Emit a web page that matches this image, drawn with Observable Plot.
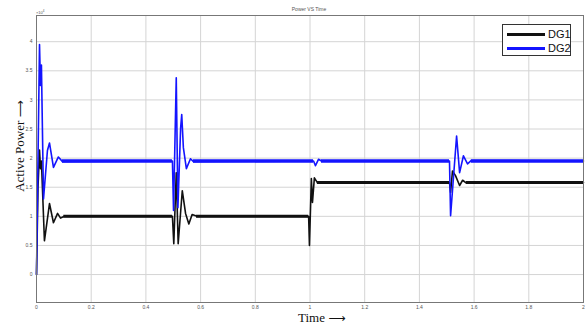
<!DOCTYPE html>
<html>
<head>
<meta charset="utf-8">
<script src="https://cdn.jsdelivr.net/npm/d3@7"></script>
<script src="https://cdn.jsdelivr.net/npm/@observablehq/plot@0.6"></script>
<style>
  html, body { margin: 0; padding: 0; background: #fff; }
  #wrap { position: relative; width: 585px; height: 325px; overflow: hidden; }
  .ov { position: absolute; white-space: nowrap; }
</style>
</head>
<body>
<div id="wrap"></div>
<script>
// ---- data (power in units of 10^4) ----
const dg1Time  = [0, 0.0055, 0.011, 0.0146, 0.018, 0.029, 0.0475, 0.062, 0.077, 0.088, 0.102,
                  0.497, 0.502, 0.511, 0.518, 0.533, 0.545, 0.557, 0.569, 0.587,
                  0.995, 0.998, 1.005, 1.009, 1.016, 1.027,
                  1.510, 1.514, 1.521, 1.532, 1.547, 1.558, 1.572, 2.0];
const dg1Power = [0, 1.5, 2.14, 1.82, 1.95, 0.58, 1.22, 0.89, 1.05, 0.97, 1.0,
                  1.0, 0.53, 1.75, 0.53, 1.44, 1.05, 0.87, 1.03, 1.0,
                  1.0, 0.5, 1.65, 1.24, 1.66, 1.58,
                  1.58, 1.41, 1.78, 1.70, 1.53, 1.62, 1.57, 1.58];
const dg2Time  = [0, 0.011, 0.0146, 0.018, 0.0256, 0.040, 0.0475, 0.062, 0.080, 0.095,
                  0.497, 0.501, 0.511, 0.517, 0.527, 0.531, 0.537, 0.548, 0.563, 0.574,
                  1.013, 1.020, 1.031, 1.042,
                  1.510, 1.514, 1.536, 1.547, 1.561, 1.576, 1.590, 2.0];
const dg2Power = [0, 3.95, 3.25, 3.6, 1.30, 2.13, 2.26, 1.84, 2.02, 1.94,
                  1.95, 1.10, 3.38, 1.15, 2.52, 2.75, 2.18, 1.82, 1.99, 1.94,
                  1.95, 1.87, 1.98, 1.95,
                  1.95, 1.01, 2.38, 1.75, 2.04, 1.90, 1.96, 1.95];
// steady (rippling) stretches: start time, end time, level
const dg1Steady = [[0.10, 0.497, 1.0], [0.585, 0.995, 1.0], [1.027, 1.510, 1.58], [1.572, 2.0, 1.58]];
const dg2Steady = [[0.095, 0.497, 1.95], [0.574, 1.013, 1.95], [1.042, 1.510, 1.95], [1.590, 2.0, 1.95]];
const xTicks = [0, 0.2, 0.4, 0.6, 0.8, 1, 1.2, 1.4, 1.6, 1.8, 2];
const yTicks = [0, 0.5, 1, 1.5, 2, 2.5, 3, 3.5, 4];
const seriesNames = ["DG1", "DG2"];
const seriesColors = ["#111111", "#1414ff"];

const dg1 = dg1Time.map((t, i) => ({t, p: dg1Power[i]}));
const dg2 = dg2Time.map((t, i) => ({t, p: dg2Power[i]}));
const st1 = dg1Steady.map(([a, b, v]) => ({a, b, v}));
const st2 = dg2Steady.map(([a, b, v]) => ({a, b, v}));

const chart = Plot.plot({
  width: 585, height: 325,
  marginLeft: 36, marginRight: 2, marginTop: 15, marginBottom: 23,
  style: {fontSize: "5px", color: "#555", fontFamily: "Liberation Sans, Arial, sans-serif", background: "#fff"},
  x: {domain: [0, 2], label: null},
  y: {domain: [-0.48, 4.45], label: null},
  marks: [
    Plot.gridX(xTicks, {stroke: "#d4d4d4", strokeOpacity: 1, strokeWidth: 1}),
    Plot.gridY(yTicks, {stroke: "#d4d4d4", strokeOpacity: 1, strokeWidth: 1}),
    Plot.axisX(xTicks, {tickSize: 0, tickPadding: 3, tickFormat: d => String(d), fill: "#555"}),
    Plot.axisY(yTicks, {tickSize: 0, tickPadding: 4, tickFormat: d => String(d), fill: "#555"}),
    Plot.ruleY(st1, {x1: "a", x2: "b", y: "v", stroke: seriesColors[0], strokeWidth: 3}),
    Plot.lineY(dg1, {x: "t", y: "p", stroke: seriesColors[0], strokeWidth: 1.6}),
    Plot.ruleY(st2, {x1: "a", x2: "b", y: "v", stroke: seriesColors[1], strokeWidth: 3.6}),
    Plot.lineY(dg2, {x: "t", y: "p", stroke: seriesColors[1], strokeWidth: 1.6}),
    Plot.frame({stroke: "#777", strokeWidth: 1})
  ]
});

const wrap = document.getElementById("wrap");
wrap.appendChild(chart);

function ov(html, style) {
  const d = document.createElement("div");
  d.className = "ov";
  d.innerHTML = html;
  Object.assign(d.style, style);
  wrap.appendChild(d);
  return d;
}
// title
ov("Power VS Time", {left: "309px", top: "6px", transform: "translateX(-50%)", font: "5px 'Liberation Sans', Arial, sans-serif", color: "#555"});
// exponent
ov("×10<sup style='font-size:3px'>4</sup>", {left: "36px", top: "9px", font: "4px 'Liberation Sans', Arial, sans-serif", color: "#555"});
// x label
ov("Time <span style=\"font-family:'DejaVu Sans';font-size:12px\">⟶</span>", {left: "298px", top: "312px", lineHeight: "12px", font: "13px/12px 'Liberation Serif', 'Times New Roman', serif", color: "#111"});
// y label
ov("Active Power <span style=\"font-family:'DejaVu Sans';font-size:12px\">⟶</span>", {left: "20px", top: "146px", transform: "translate(-50%,-50%) rotate(-90deg)", font: "13px 'Liberation Serif', 'Times New Roman', serif", color: "#111"});
// legend
const leg = ov("", {left: "502px", top: "24px", width: "67px", height: "30px", border: "1px solid #333", background: "#fff"});
seriesNames.forEach((n, i) => {
  const row = document.createElement("div");
  Object.assign(row.style, {position: "absolute", left: "4px", top: (3 + i * 14) + "px", height: "12px", display: "flex", alignItems: "center"});
  row.innerHTML = `<span style="display:inline-block;width:38px;height:3px;background:${seriesColors[i]}"></span>` +
    `<span style="margin-left:3px;font:11px 'Liberation Sans', Arial, sans-serif;color:#111">${n}</span>`;
  leg.appendChild(row);
});
</script>
</body>
</html>
